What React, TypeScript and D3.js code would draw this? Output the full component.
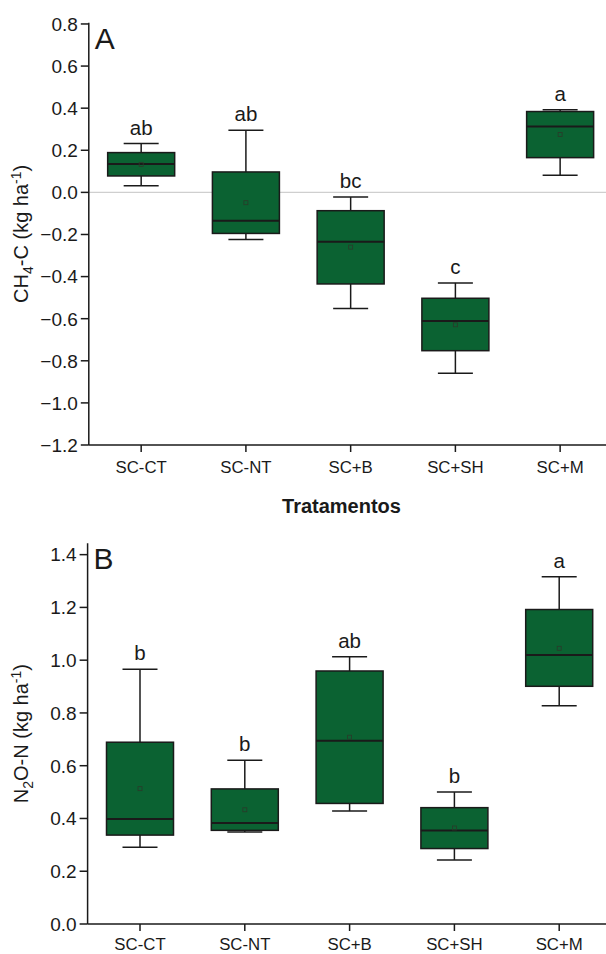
import React from "react";
import * as d3 from "d3";

const categories = ["SC-CT", "SC-NT", "SC+B", "SC+SH", "SC+M"];

const ch4Min = [0.032, -0.224, -0.552, -0.859, 0.081];
const ch4Q1 = [0.078, -0.195, -0.435, -0.752, 0.165];
const ch4Median = [0.135, -0.135, -0.235, -0.611, 0.313];
const ch4Q3 = [0.189, 0.097, -0.087, -0.503, 0.384];
const ch4Max = [0.232, 0.295, -0.022, -0.43, 0.392];
const ch4Mean = [0.133, -0.049, -0.26, -0.629, 0.275];
const ch4Letters = ["ab", "ab", "bc", "c", "a"];
const ch4Ticks = [-1.2, -1.0, -0.8, -0.6, -0.4, -0.2, 0.0, 0.2, 0.4, 0.6, 0.8];

const n2oMin = [0.291, 0.349, 0.428, 0.243, 0.827];
const n2oQ1 = [0.337, 0.355, 0.457, 0.286, 0.901];
const n2oMedian = [0.398, 0.383, 0.695, 0.354, 1.02];
const n2oQ3 = [0.689, 0.512, 0.959, 0.441, 1.192];
const n2oMax = [0.966, 0.621, 1.013, 0.5, 1.316];
const n2oMean = [0.513, 0.433, 0.708, 0.364, 1.045];
const n2oLetters = ["b", "b", "ab", "b", "a"];
const n2oTicks = [0.0, 0.2, 0.4, 0.6, 0.8, 1.0, 1.2, 1.4];

const FONT = "'Liberation Sans', Arial, Helvetica, sans-serif";
const FILL = "#0b6232";
const INK = "#1a1a1a";

type PanelProps = {
  mins: number[]; q1: number[]; med: number[]; q3: number[]; maxs: number[]; means: number[];
  letters: string[]; ticks: number[]; domain: [number, number];
  top: number; bottom: number; left: number; right: number;
  panelLabel: string; zeroLine: boolean; tickLabelBaseline: number;
  title: React.ReactNode;
};

function Panel(p: PanelProps) {
  const y = d3.scaleLinear().domain(p.domain).range([p.bottom, p.top]);
  const x = d3.scaleBand<string>().domain(categories).range([p.left, p.right]).padding(0);
  const fmt = d3.format(".1f");
  const boxW = 67;
  const capW = 35;
  const yAxisCenter = (p.top + p.bottom) / 2;
  return (
    <g>
      {p.zeroLine && (
        <line x1={p.left} x2={p.right} y1={y(0)} y2={y(0)} stroke="#cfcfcf" strokeWidth={1.2} />
      )}
      {categories.map((c, i) => {
        const cx = (x(c) as number) + x.bandwidth() / 2;
        return (
          <g key={c}>
            <line x1={cx} x2={cx} y1={y(p.maxs[i])} y2={y(p.q3[i])} stroke={INK} strokeWidth={1.5} />
            <line x1={cx} x2={cx} y1={y(p.q1[i])} y2={y(p.mins[i])} stroke={INK} strokeWidth={1.5} />
            <line x1={cx - capW / 2} x2={cx + capW / 2} y1={y(p.maxs[i])} y2={y(p.maxs[i])} stroke={INK} strokeWidth={1.5} />
            <line x1={cx - capW / 2} x2={cx + capW / 2} y1={y(p.mins[i])} y2={y(p.mins[i])} stroke={INK} strokeWidth={1.5} />
            <rect x={cx - boxW / 2} y={y(p.q3[i])} width={boxW} height={y(p.q1[i]) - y(p.q3[i])} fill={FILL} stroke={INK} strokeWidth={1.5} />
            <line x1={cx - boxW / 2} x2={cx + boxW / 2} y1={y(p.med[i])} y2={y(p.med[i])} stroke={INK} strokeWidth={2} />
            <rect x={cx - 2} y={y(p.means[i]) - 2} width={4} height={4} fill="none" stroke="#2a3a2a" strokeWidth={0.8} />
            <text x={cx} y={y(p.maxs[i]) - 9} textAnchor="middle" fontSize={20.5} fontFamily={FONT} fill={INK}>{p.letters[i]}</text>
          </g>
        );
      })}
      <line x1={p.left} x2={p.left} y1={p.top} y2={p.bottom} stroke={INK} strokeWidth={1.5} />
      {p.ticks.map((t) => (
        <g key={t}>
          <line x1={p.left - 8} x2={p.left} y1={y(t)} y2={y(t)} stroke={INK} strokeWidth={1.5} />
          <text x={p.left - 11} y={y(t)} dy="0.36em" textAnchor="end" fontSize={19} fontFamily={FONT} fill={INK}>{fmt(t)}</text>
        </g>
      ))}
      <line x1={p.left} x2={p.right} y1={p.bottom} y2={p.bottom} stroke={INK} strokeWidth={1.5} />
      {categories.map((c) => {
        const cx = (x(c) as number) + x.bandwidth() / 2;
        return (
          <g key={c}>
            <line x1={cx} x2={cx} y1={p.bottom} y2={p.bottom + 7} stroke={INK} strokeWidth={1.5} />
            <text x={cx} y={p.tickLabelBaseline} textAnchor="middle" fontSize={16.8} fontFamily={FONT} fill={INK}>{c}</text>
          </g>
        );
      })}
      <text x={p.left + 6} y={p.top + 26} fontSize={30} fontFamily={FONT} fill={INK}>{p.panelLabel}</text>
      <text transform={`translate(27.5,${yAxisCenter}) rotate(-90)`} textAnchor="middle" fontSize={20} fontFamily={FONT} fill={INK}>{p.title}</text>
    </g>
  );
}

export default function App() {
  return (
    <svg width={606} height={954} style={{ position: "absolute", left: 0, top: 0, background: "#fff" }}>
      <rect x={0} y={0} width={606} height={954} fill="#fff" />
      <Panel
        mins={ch4Min} q1={ch4Q1} med={ch4Median} q3={ch4Q3} maxs={ch4Max} means={ch4Mean}
        letters={ch4Letters} ticks={ch4Ticks} domain={[-1.2, 0.806]}
        top={22.7} bottom={445} left={88.8} right={612.5}
        panelLabel="A" zeroLine={true} tickLabelBaseline={472.7}
        title={<>CH<tspan fontSize={14} dy={5}>4</tspan><tspan dy={-5}>-C (kg ha</tspan><tspan fontSize={14} dy={-7}>-1</tspan><tspan dy={7}>)</tspan></>}
      />
      <text x={341.5} y={513} textAnchor="middle" fontSize={20} fontWeight="bold" fontFamily={FONT} fill={INK}>Tratamentos</text>
      <Panel
        mins={n2oMin} q1={n2oQ1} med={n2oMedian} q3={n2oQ3} maxs={n2oMax} means={n2oMean}
        letters={n2oLetters} ticks={n2oTicks} domain={[0, 1.443]}
        top={543.3} bottom={924} left={87.6} right={611.6}
        panelLabel="B" zeroLine={false} tickLabelBaseline={949.5}
        title={<>N<tspan fontSize={14} dy={5}>2</tspan><tspan dy={-5}>O-N (kg ha</tspan><tspan fontSize={14} dy={-7}>-1</tspan><tspan dy={7}>)</tspan></>}
      />
    </svg>
  );
}
